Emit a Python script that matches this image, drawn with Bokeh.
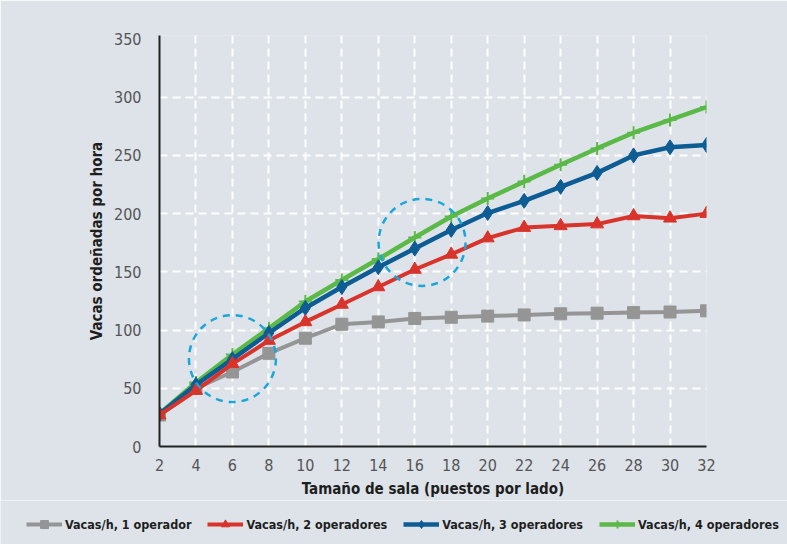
from bokeh.plotting import figure
from bokeh.layouts import column, row
from bokeh.models import Range1d, FixedTicker, Legend, LegendItem
from bokeh.embed import file_html
from bokeh.resources import INLINE

# ---- data ----
sala = [2, 4, 6, 8, 10, 12, 14, 16, 18, 20, 22, 24, 26, 28, 30, 32]
op1 = [27, 50, 64, 80, 93, 105, 107, 110, 111, 112, 113, 114, 114.5, 115, 115.5, 116.5]
op2 = [27, 48, 71, 91, 107, 122, 137, 152, 165, 179, 188, 189.5, 191, 198, 196, 200]
op3 = [28, 53, 75, 97.5, 119, 137, 154, 170, 186, 200.5, 211, 223, 235, 250, 257, 259]
op4 = [28, 55, 79, 101.5, 124.5, 143, 161, 179.5, 197.5, 213, 227.5, 242, 256, 269.5, 280.5, 291.5]
y_ticks = [0, 50, 100, 150, 200, 250, 300, 350]
labels = ["Vacas/h, 1 operador", "Vacas/h, 2 operadores",
          "Vacas/h, 3 operadores", "Vacas/h, 4 operadores"]
highlight_x = [6, 16.4]
highlight_y = [75.5, 175.3]

PANEL = "#dde3e9"
GRAY, RED, BLUE, GREEN, CYAN = "#959595", "#d8342b", "#0d5c93", "#5bb948", "#1aa6d9"
FONT = "DejaVu Sans Condensed, sans-serif"

p = figure(width=787, height=500, x_range=Range1d(2, 32), y_range=Range1d(0, 353),
           output_backend="svg", toolbar_location=None,
           min_border_left=159, min_border_right=81, min_border_top=35, min_border_bottom=53)
p.background_fill_color = PANEL
p.border_fill_color = PANEL
p.outline_line_color = None

p.xgrid.ticker = FixedTicker(ticks=sala[1:])
p.ygrid.ticker = FixedTicker(ticks=y_ticks[1:-1])
for g in (p.xgrid, p.ygrid):
    g.grid_line_color = "white"
    g.grid_line_width = 2
    g.grid_line_dash = "8 5"

p.xaxis.ticker = FixedTicker(ticks=sala)
p.yaxis.ticker = FixedTicker(ticks=y_ticks)
for ax in (p.xaxis, p.yaxis):
    ax.axis_line_color = "#222222"
    ax.axis_line_width = 2
    ax.major_tick_line_color = None
    ax.minor_tick_line_color = None
    ax.major_label_text_font = FONT
    ax.major_label_text_font_size = "16px"
    ax.major_label_text_color = "#555555"
    ax.axis_label_text_font = FONT
    ax.axis_label_text_font_size = "15px"
    ax.axis_label_text_font_style = "bold"
    ax.axis_label_text_color = "#1e1e1e"
p.xaxis.axis_label = "Tamaño de sala (puestos por lado)"
p.yaxis.axis_label = "Vacas ordeñadas por hora"
p.xaxis.major_label_standoff = 6
p.yaxis.major_label_standoff = 12
p.xaxis.axis_label_standoff = 6
p.yaxis.axis_label_standoff = 5

series = [op1, op2, op3, op4]
specs = [(GRAY, "square", 12, 4), (RED, "triangle", 13, 4),
         (BLUE, "diamond", 15, 4.5), (GREEN, "cross", 13, 4.5)]

def draw(fig, vals, spec):
    col, mk, sz, lw = spec
    rl = fig.line(sala, vals, line_color=col, line_width=lw)
    if mk == "cross":
        rm = fig.scatter(sala, vals, marker=mk, size=sz, line_color=col, line_width=2)
    else:
        rm = fig.scatter(sala, vals, marker=mk, size=sz, color=col)
    return rl, rm

for i in (0, 3, 2, 1):
    draw(p, series[i], specs[i])

p.scatter(highlight_x, highlight_y, marker="circle", size=87, fill_color=None,
          line_color=CYAN, line_width=2.5, line_dash="7 6")

# ---- legend strip (same series, drawn out of view; only their legend shows) ----
q = figure(width=787, height=44, x_range=Range1d(2, 32), y_range=Range1d(1000, 1001),
           output_backend="svg", toolbar_location=None, min_border=0,
           x_axis_location=None, y_axis_location=None)
q.grid.visible = False
q.background_fill_color = PANEL
q.border_fill_color = PANEL
q.outline_line_color = None

items = []
for lab, vals, spec in zip(labels, series, specs):
    rl, rm = draw(q, vals, spec)
    items.append(LegendItem(label=lab, renderers=[rl, rm]))

legend = Legend(items=items, orientation="horizontal", location=(26, 10))
legend.label_text_font = FONT
legend.label_text_font_size = "12.5px"
legend.label_text_font_style = "bold"
legend.label_text_color = "#1e1e1e"
legend.glyph_width = 36
legend.glyph_height = 20
legend.label_height = 20
legend.label_standoff = 3
legend.spacing = 16
legend.padding = 0
legend.margin = 0
legend.border_line_color = None
legend.background_fill_alpha = 0
q.add_layout(legend)

open("out.html", "w").write(file_html(column(p, row(q, spacing=0), spacing=0), INLINE))
